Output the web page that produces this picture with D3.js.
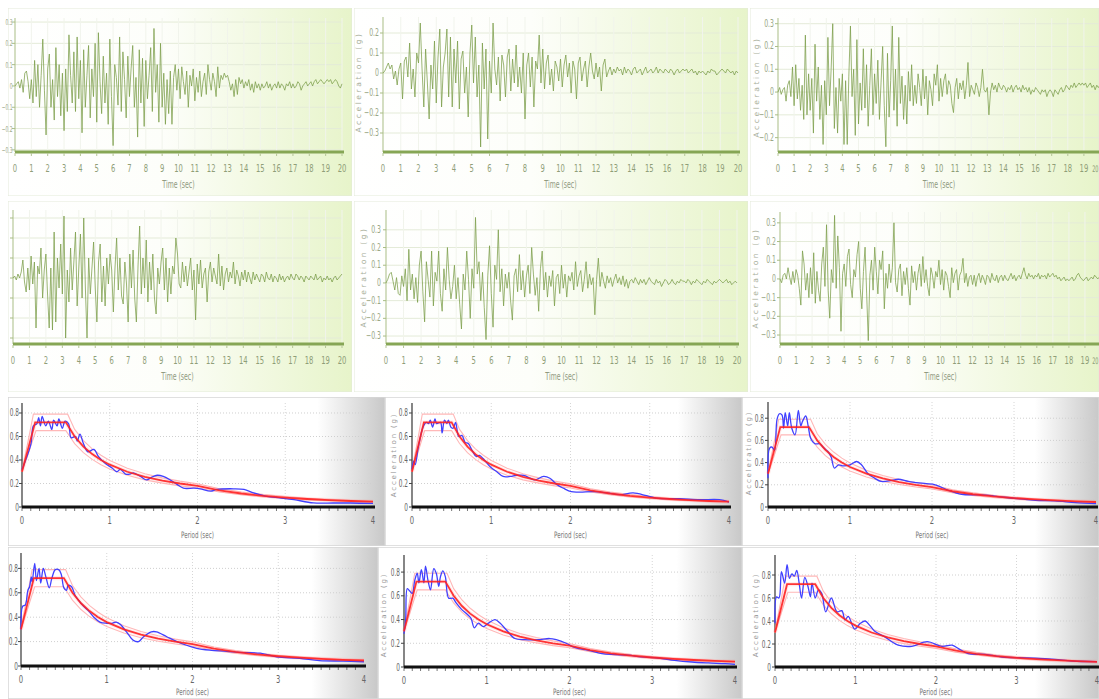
<!DOCTYPE html>
<html lang="en">
<head>
<meta charset="utf-8">
<title>Ground motions and response spectra</title>
<script src="https://cdn.jsdelivr.net/npm/d3@7"></script>
<style>
  body { margin: 0; background: #fff; }
  svg text { font-family: "DejaVu Sans", sans-serif; }
</style>
</head>
<body>
<script>
// ---- acceleration histories, one value every 0.1 s from 0 to 20 s ----
var dt = 0.1;
var acc1 = [
  0.00, 0.01, 0.02, -0.01, 0.03, -0.03, 0.06, 0.07, 0.02, -0.06,
  0.03, -0.08, 0.12, -0.05, 0.10, -0.10, 0.05, 0.22, -0.02, -0.23,
  0.08, 0.15, -0.10, 0.03, -0.16, 0.18, -0.05, 0.10, -0.14, 0.06,
  -0.21, 0.08, -0.12, 0.24, 0.05, -0.08, 0.16, -0.12, 0.23, -0.06,
  0.12, -0.22, 0.17, -0.10, 0.05, 0.19, -0.15, 0.08, -0.05, 0.20,
  -0.17, 0.25, 0.02, -0.13, 0.14, -0.08, 0.06, -0.18, 0.22, -0.05,
  -0.28, 0.10, 0.04, -0.09, 0.23, -0.12, 0.16, 0.03, -0.15, 0.14,
  -0.05, 0.08, 0.19, -0.10, 0.04, -0.24, 0.17, -0.08, 0.13, -0.19,
  0.12, -0.06, 0.05, 0.18, -0.12, 0.27, -0.03, 0.10, -0.17, 0.20,
  -0.10, 0.06, -0.18, 0.03, -0.13, 0.07, -0.18, 0.04, 0.10, -0.02,
  0.08, -0.06, 0.09, 0.02, -0.04, 0.07, -0.10, 0.05, 0.00, 0.08,
  -0.07, 0.04, -0.03, 0.07, -0.05, 0.02, 0.06, -0.04, 0.10, 0.03,
  -0.02, 0.06, 0.02, -0.05, 0.09, -0.01, 0.05, 0.03, 0.06, 0.04,
  0.05, 0.02, -0.02, 0.01, -0.05, 0.03, -0.04, 0.04, 0.01, 0.03,
  -0.01, 0.02, 0.00, 0.03, -0.02, 0.01, -0.03, 0.02, -0.01, 0.01,
  -0.02, 0.01, -0.01, 0.00, 0.02, -0.01, 0.01, -0.02, 0.00, 0.01,
  -0.01, 0.02, -0.01, 0.01, 0.00, -0.02, 0.01, 0.00, 0.02, -0.01,
  0.01, -0.01, 0.00, 0.02, 0.01, -0.02, 0.00, 0.01, 0.02, 0.00,
  0.01, 0.02, 0.00, 0.02, 0.03, 0.01, 0.02, 0.03, 0.02, 0.01,
  0.02, 0.03, 0.02, 0.03, 0.01, 0.02, 0.03, 0.02, 0.00, -0.01, 0.01
];
var acc2 = [
  0.00, 0.01, 0.03, 0.05, 0.02, 0.04, -0.03, 0.01, -0.06, 0.02,
  0.05, -0.13, 0.06, 0.08, -0.02, 0.15, -0.08, 0.02, -0.12, 0.10,
  0.05, 0.25, 0.02, -0.17, 0.12, -0.05, -0.23, 0.04, -0.08, 0.16,
  -0.15, 0.08, 0.22, -0.17, 0.03, 0.10, 0.22, -0.12, 0.18, -0.17,
  0.12, -0.05, 0.16, -0.18, 0.07, 0.11, -0.10, 0.03, -0.22, 0.10,
  0.24, -0.05, 0.18, -0.12, 0.04, -0.37, 0.15, -0.08, 0.12, -0.33,
  0.06, -0.10, 0.25, 0.02, -0.06, 0.08, -0.14, 0.09, 0.04, -0.12,
  0.08, 0.12, -0.09, 0.07, -0.05, 0.14, -0.07, 0.03, -0.10, 0.10,
  -0.23, 0.04, 0.10, -0.07, 0.08, -0.17, 0.06, 0.02, 0.19, -0.05,
  0.12, -0.08, 0.05, 0.09, -0.06, 0.02, -0.09, 0.06, 0.03, -0.04,
  0.07, -0.07, 0.04, 0.09, -0.02, 0.05, -0.10, 0.06, 0.02, -0.13,
  0.05, 0.08, -0.04, 0.02, 0.06, -0.07, 0.03, 0.10, 0.01, -0.03,
  0.05, -0.02, 0.03, -0.09, 0.04, 0.07, -0.02, 0.01, 0.03, -0.01,
  0.02, 0.00, 0.03, 0.01, 0.02, -0.01, 0.03, 0.00, 0.02, 0.01,
  -0.01, 0.02, 0.03, 0.00, 0.01, 0.02, -0.01, 0.01, 0.03, 0.00,
  0.01, 0.02, 0.00, 0.01, 0.03, 0.00, 0.02, 0.01, 0.00, 0.02,
  0.01, 0.00, 0.02, 0.01, -0.01, 0.01, 0.02, 0.00, 0.01, 0.02,
  0.01, 0.02, 0.00, 0.01, 0.02, 0.00, 0.01, -0.01, 0.01, 0.00,
  0.01, 0.00, -0.01, 0.01, 0.00, 0.02, 0.01, 0.01, -0.01, 0.00,
  0.01, 0.02, 0.01, 0.00, 0.02, 0.01, 0.00, 0.01, -0.01, 0.01, 0.00
];
var acc3 = [
  0.00, 0.02, -0.01, 0.01, 0.02, -0.04, 0.03, 0.05, -0.02, 0.11,
  -0.06, 0.12, -0.03, 0.06, -0.08, 0.03, -0.12, 0.25, -0.10, 0.08,
  -0.08, 0.06, -0.18, 0.21, -0.04, 0.11, -0.12, 0.03, -0.23, 0.05,
  -0.10, 0.24, -0.06, 0.10, 0.30, -0.16, 0.02, -0.18, 0.06, -0.04,
  0.08, -0.23, 0.05, -0.23, 0.07, 0.29, -0.02, 0.10, -0.19, 0.23,
  -0.14, 0.04, -0.08, 0.19, -0.07, 0.12, -0.15, 0.03, 0.19, -0.10,
  0.08, -0.05, 0.14, -0.12, 0.04, 0.20, -0.06, -0.24, 0.17, -0.11,
  0.05, 0.29, -0.08, 0.10, -0.15, 0.24, -0.05, 0.07, -0.12, 0.03,
  -0.14, 0.09, -0.04, 0.12, -0.06, 0.03, -0.05, 0.08, 0.02, -0.06,
  0.10, -0.03, 0.07, -0.10, 0.05, 0.01, -0.06, 0.08, 0.03, 0.12,
  -0.04, 0.06, -0.02, 0.05, 0.08, -0.01, 0.05, 0.03, -0.05, -0.09,
  0.02, 0.06, -0.03, 0.04, 0.01, 0.05, -0.03, 0.03, 0.13, -0.02,
  0.03, 0.01, -0.01, 0.04, 0.02, -0.02, 0.02, 0.10, 0.01, 0.00,
  0.02, -0.10, 0.00, 0.04, 0.01, 0.03, 0.00, 0.04, 0.02, 0.01,
  0.03, 0.02, 0.00, 0.02, 0.01, 0.03, 0.00, 0.02, 0.03, 0.01,
  0.02, 0.00, 0.03, 0.01, 0.02, 0.00, 0.02, -0.01, 0.01, 0.00,
  0.02, 0.01, 0.00, -0.01, 0.01, 0.00, 0.01, -0.02, 0.00, 0.01,
  0.00, -0.02, 0.01, 0.00, -0.01, 0.01, 0.02, 0.00, 0.01, 0.03,
  0.02, 0.01, 0.03, 0.02, 0.04, 0.02, 0.03, 0.04, 0.03, 0.04,
  0.03, 0.04, 0.02, 0.03, 0.04, 0.02, 0.03, 0.01, 0.03, 0.02, 0.03
];
var acc4 = [
  0.00, 0.01, -0.01, 0.02, 0.00, 0.03, 0.09, -0.02, -0.07, 0.05,
  -0.06, 0.11, -0.03, 0.08, -0.25, 0.06, 0.02, 0.15, -0.10, 0.04,
  0.12, -0.08, -0.25, 0.05, -0.26, 0.23, -0.22, 0.10, -0.05, 0.17,
  -0.08, 0.31, -0.30, 0.04, -0.12, 0.15, -0.06, 0.08, 0.23, -0.14,
  0.05, 0.22, -0.10, 0.30, -0.05, -0.30, 0.10, -0.08, 0.05, 0.18,
  -0.05, -0.22, 0.08, 0.17, -0.12, 0.06, -0.14, 0.10, -0.03, 0.12,
  0.04, -0.17, 0.05, 0.20, -0.06, 0.10, -0.09, -0.13, 0.08, -0.03,
  -0.22, 0.12, -0.05, 0.14, -0.10, -0.22, 0.06, 0.26, -0.08, 0.10,
  -0.05, 0.19, -0.12, 0.08, -0.06, 0.12, -0.10, -0.18, 0.05, -0.03,
  0.08, 0.15, -0.06, 0.10, -0.12, 0.05, -0.08, 0.06, 0.02, 0.20,
  0.12, -0.03, -0.05, 0.08, -0.02, 0.06, -0.04, 0.03, 0.10, -0.06,
  0.04, -0.21, 0.07, -0.03, 0.09, -0.05, 0.02, 0.05, -0.12, 0.03,
  0.08, -0.02, 0.05, 0.01, -0.03, 0.12, -0.04, 0.06, -0.06, 0.02,
  0.05, -0.02, 0.03, 0.00, 0.08, -0.03, 0.04, 0.01, -0.04, 0.03,
  -0.01, 0.04, -0.02, 0.03, 0.00, -0.03, 0.03, -0.01, 0.02, 0.00,
  -0.02, 0.02, 0.01, -0.02, 0.03, 0.00, -0.01, 0.02, -0.02, 0.01,
  0.00, -0.02, 0.02, -0.01, 0.01, -0.02, 0.00, 0.01, -0.01, 0.02,
  0.00, -0.01, 0.02, 0.01, -0.01, 0.01, 0.00, -0.02, 0.01, 0.00,
  -0.01, 0.01, 0.00, -0.01, 0.02, -0.01, 0.00, 0.01, -0.02, 0.00,
  -0.01, 0.01, -0.01, 0.00, -0.02, 0.00, 0.01, -0.01, 0.00, 0.01, 0.02
];
var acc5 = [
  0.00, 0.02, 0.05, 0.06, 0.01, -0.04, 0.03, -0.06, -0.07, 0.04,
  -0.02, 0.08, -0.10, 0.19, -0.04, 0.05, -0.09, 0.03, -0.11, 0.10,
  0.18, -0.05, -0.22, 0.12, 0.02, -0.08, 0.18, -0.13, 0.06, 0.01,
  0.18, -0.06, -0.16, 0.08, -0.04, 0.20, 0.02, -0.09, -0.02, 0.10,
  -0.09, 0.03, -0.12, -0.26, 0.05, -0.04, 0.18, 0.02, -0.20, 0.08,
  -0.03, 0.37, 0.05, 0.12, -0.10, 0.06, -0.14, -0.32, 0.04, 0.21,
  -0.06, -0.25, 0.10, 0.02, 0.30, -0.05, 0.08, -0.13, 0.05, -0.03,
  0.06, -0.10, -0.21, 0.04, 0.08, -0.05, 0.16, -0.04, 0.07, -0.08,
  0.04, 0.10, -0.06, 0.20, 0.05, -0.07, 0.03, -0.16, 0.08, 0.18,
  -0.04, 0.06, -0.08, 0.04, -0.02, 0.07, -0.13, 0.03, 0.05, -0.06,
  0.10, -0.03, 0.05, -0.08, 0.04, 0.01, 0.06, -0.04, 0.12, -0.02,
  0.04, 0.07, -0.05, 0.02, 0.12, -0.03, 0.05, -0.01, 0.03, -0.18,
  0.02, 0.14, -0.02, 0.06, 0.01, -0.03, 0.04, 0.00, 0.03, -0.02,
  0.02, 0.05, 0.00, 0.03, -0.01, 0.04, -0.02, 0.02, -0.03, 0.01,
  0.02, 0.00, 0.03, 0.01, -0.01, 0.02, 0.00, 0.02, -0.01, 0.01,
  0.03, 0.01, 0.00, -0.01, 0.02, 0.00, 0.01, -0.02, 0.00, 0.02,
  0.01, -0.01, 0.00, 0.02, 0.00, -0.01, 0.01, 0.00, 0.02, 0.01,
  0.01, 0.00, 0.02, 0.01, -0.01, 0.01, 0.00, 0.02, 0.01, 0.00,
  -0.01, 0.01, 0.00, 0.02, 0.01, 0.00, -0.01, 0.01, 0.00, 0.01,
  0.02, 0.01, 0.00, 0.01, 0.02, 0.00, 0.01, -0.01, 0.00, 0.01, 0.00
];
var acc6 = [
  0.00, -0.02, 0.02, 0.03, 0.00, 0.06, 0.01, -0.03, 0.04, -0.02,
  0.05, 0.02, -0.05, -0.14, 0.15, 0.08, -0.06, 0.03, -0.10, 0.06,
  -0.08, 0.14, -0.13, 0.04, -0.06, -0.12, 0.08, 0.17, -0.04, 0.29,
  -0.06, -0.21, 0.05, -0.02, 0.34, -0.05, 0.23, 0.06, -0.28, 0.03,
  0.08, -0.04, 0.12, 0.16, -0.03, -0.10, 0.05, 0.01, 0.13, 0.20,
  -0.05, -0.16, 0.04, 0.17, -0.08, -0.33, 0.02, 0.10, -0.06, 0.17,
  0.04, -0.08, 0.10, 0.05, 0.15, -0.16, 0.03, -0.05, 0.08, -0.02,
  0.06, 0.30, -0.02, -0.07, 0.05, 0.08, -0.09, 0.04, -0.03, 0.06,
  -0.05, -0.14, 0.07, -0.02, 0.04, -0.06, 0.03, 0.08, -0.04, 0.12,
  -0.02, 0.05, -0.04, -0.09, 0.06, 0.02, -0.05, 0.04, 0.01, 0.10,
  -0.03, 0.05, -0.06, 0.04, 0.02, -0.04, -0.10, 0.06, -0.02, 0.03,
  0.05, -0.06, 0.02, 0.04, 0.11, -0.02, 0.03, -0.04, 0.01, 0.02,
  -0.03, 0.02, -0.04, 0.01, 0.03, -0.02, 0.02, 0.00, -0.03, 0.02,
  0.01, -0.02, 0.03, 0.00, -0.01, 0.02, -0.02, 0.01, 0.02, -0.01,
  0.02, 0.00, -0.01, 0.01, 0.03, 0.00, 0.02, -0.01, 0.01, 0.02,
  0.00, 0.03, 0.06, 0.02, 0.00, 0.03, 0.01, 0.02, 0.00, 0.02,
  0.01, 0.03, 0.00, 0.02, 0.01, 0.02, 0.00, 0.03, 0.01, 0.02,
  0.03, 0.01, 0.02, 0.00, 0.01, -0.01, 0.00, 0.01, -0.01, 0.00,
  -0.01, 0.00, 0.01, -0.01, 0.00, 0.02, 0.03, 0.01, 0.00, -0.01,
  0.00, 0.01, -0.01, 0.00, 0.01, 0.00, 0.02, 0.01, 0.00, 0.01, 0.00
];

// ---- tick labels ----
var timeTicks = [0, 1, 2, 3, 4, 5, 6, 7, 8, 9, 10, 11, 12, 13, 14, 15, 16, 17, 18, 19, 20];
var accTicks = [-0.3, -0.2, -0.1, 0, 0.1, 0.2, 0.3];
var periodTicks = [0, 1, 2, 3, 4];
var saTicks = [0, 0.2, 0.4, 0.6, 0.8];

// ---- target spectrum (red) and its +/- band (pink) ----
var targetT  = [0, 0.15, 0.5, 0.6, 0.7, 0.8, 0.9, 1.0, 1.2, 1.4, 1.6, 1.8, 2.0, 2.25, 2.5, 2.75, 3.0, 3.25, 3.5, 3.75, 4.0];
var targetSa = [0.30, 0.72, 0.72, 0.60, 0.514, 0.45, 0.40, 0.36, 0.30, 0.257, 0.225, 0.20, 0.18, 0.142, 0.115, 0.095, 0.08, 0.068, 0.059, 0.051, 0.045];
var upperT   = [0, 0.13, 0.52, 0.6, 0.7, 0.8, 0.9, 1.0, 1.2, 1.4, 1.6, 1.8, 2.0, 2.25, 2.5, 2.75, 3.0, 3.25, 3.5, 3.75, 4.0];
var upperSa  = [0.30, 0.79, 0.79, 0.66, 0.565, 0.495, 0.44, 0.396, 0.33, 0.283, 0.248, 0.22, 0.198, 0.156, 0.127, 0.105, 0.088, 0.075, 0.065, 0.056, 0.05];
var lowerT   = [0, 0.16, 0.5, 0.6, 0.7, 0.8, 0.9, 1.0, 1.2, 1.4, 1.6, 1.8, 2.0, 2.25, 2.5, 2.75, 3.0, 3.25, 3.5, 3.75, 4.0];
var lowerSa  = [0.30, 0.65, 0.65, 0.54, 0.463, 0.405, 0.36, 0.324, 0.27, 0.231, 0.203, 0.18, 0.162, 0.128, 0.104, 0.086, 0.072, 0.061, 0.053, 0.046, 0.04];

// ---- response spectra of the records (blue) ----
var specT1  = [0, 0.1, 0.13, 0.17, 0.19, 0.21, 0.23, 0.27, 0.3, 0.34, 0.36, 0.4, 0.42, 0.46, 0.49, 0.53, 0.56, 0.61, 0.63, 0.66, 0.7, 0.75, 0.82, 0.87, 0.95, 1.03, 1.08, 1.12, 1.18, 1.23, 1.27, 1.35, 1.42, 1.48, 1.54, 1.61, 1.69, 1.77, 1.84, 1.96, 2.03, 2.15, 2.22, 2.41, 2.53, 2.64, 2.79, 2.94, 3.1, 3.32, 3.55, 3.74, 4.0];
var specSa1 = [0.32, 0.53, 0.69, 0.71, 0.76, 0.69, 0.77, 0.69, 0.73, 0.66, 0.74, 0.69, 0.75, 0.67, 0.73, 0.71, 0.59, 0.60, 0.56, 0.62, 0.54, 0.47, 0.49, 0.43, 0.37, 0.33, 0.30, 0.32, 0.28, 0.28, 0.29, 0.26, 0.23, 0.255, 0.27, 0.26, 0.23, 0.19, 0.16, 0.16, 0.155, 0.135, 0.15, 0.155, 0.15, 0.12, 0.09, 0.077, 0.062, 0.035, 0.034, 0.034, 0.03];
var specT2  = [0, 0.02, 0.04, 0.08, 0.14, 0.18, 0.21, 0.23, 0.26, 0.29, 0.31, 0.36, 0.38, 0.41, 0.44, 0.46, 0.49, 0.52, 0.55, 0.59, 0.63, 0.67, 0.71, 0.76, 0.81, 0.85, 0.9, 0.99, 1.07, 1.15, 1.24, 1.32, 1.41, 1.49, 1.55, 1.66, 1.74, 1.83, 1.91, 2.01, 2.12, 2.29, 2.46, 2.62, 2.79, 2.96, 3.08, 3.38, 3.63, 3.88, 4.0];
var specSa2 = [0.32, 0.39, 0.36, 0.51, 0.68, 0.72, 0.71, 0.74, 0.68, 0.75, 0.71, 0.72, 0.63, 0.74, 0.71, 0.74, 0.68, 0.67, 0.72, 0.60, 0.61, 0.55, 0.54, 0.48, 0.43, 0.44, 0.41, 0.34, 0.30, 0.26, 0.26, 0.27, 0.27, 0.245, 0.23, 0.26, 0.245, 0.19, 0.16, 0.13, 0.127, 0.13, 0.12, 0.105, 0.12, 0.096, 0.076, 0.07, 0.062, 0.062, 0.042];
var specT3  = [0, 0.02, 0.05, 0.08, 0.11, 0.14, 0.17, 0.19, 0.21, 0.24, 0.26, 0.29, 0.33, 0.37, 0.4, 0.42, 0.46, 0.49, 0.52, 0.57, 0.63, 0.67, 0.73, 0.77, 0.81, 0.86, 0.92, 1.0, 1.08, 1.14, 1.22, 1.3, 1.38, 1.51, 1.59, 1.71, 1.81, 1.93, 2.04, 2.2, 2.36, 2.53, 2.69, 2.85, 3.05, 3.26, 3.5, 3.75, 4.0];
var specSa3 = [0.26, 0.53, 0.54, 0.51, 0.79, 0.84, 0.83, 0.71, 0.85, 0.73, 0.85, 0.71, 0.65, 0.87, 0.73, 0.77, 0.82, 0.73, 0.62, 0.57, 0.57, 0.54, 0.50, 0.45, 0.35, 0.38, 0.37, 0.38, 0.41, 0.38, 0.30, 0.26, 0.23, 0.24, 0.25, 0.23, 0.22, 0.21, 0.20, 0.15, 0.115, 0.11, 0.105, 0.09, 0.075, 0.06, 0.055, 0.04, 0.03];
var specT4  = [0, 0.02, 0.05, 0.08, 0.1, 0.12, 0.13, 0.16, 0.18, 0.21, 0.23, 0.26, 0.29, 0.33, 0.36, 0.4, 0.44, 0.47, 0.5, 0.53, 0.55, 0.59, 0.63, 0.67, 0.73, 0.79, 0.85, 0.92, 1.0, 1.06, 1.11, 1.16, 1.23, 1.31, 1.37, 1.43, 1.52, 1.58, 1.7, 1.82, 1.93, 2.05, 2.2, 2.4, 2.59, 2.79, 2.98, 3.25, 3.48, 3.76, 4.0];
var specSa4 = [0.30, 0.49, 0.50, 0.62, 0.65, 0.73, 0.69, 0.84, 0.70, 0.80, 0.68, 0.80, 0.73, 0.64, 0.72, 0.79, 0.79, 0.75, 0.64, 0.62, 0.66, 0.65, 0.58, 0.54, 0.49, 0.45, 0.40, 0.36, 0.35, 0.35, 0.36, 0.34, 0.28, 0.21, 0.20, 0.24, 0.28, 0.28, 0.24, 0.20, 0.17, 0.145, 0.13, 0.12, 0.11, 0.105, 0.075, 0.063, 0.044, 0.04, 0.035];
var specT5  = [0, 0.02, 0.04, 0.07, 0.1, 0.13, 0.16, 0.18, 0.21, 0.24, 0.26, 0.29, 0.32, 0.36, 0.39, 0.42, 0.44, 0.47, 0.5, 0.54, 0.59, 0.63, 0.69, 0.77, 0.81, 0.85, 0.9, 0.96, 1.02, 1.1, 1.16, 1.24, 1.34, 1.46, 1.62, 1.76, 1.84, 1.96, 2.06, 2.23, 2.39, 2.55, 2.71, 2.87, 3.07, 3.27, 3.48, 3.68, 3.88, 4.0];
var specSa5 = [0.28, 0.40, 0.66, 0.64, 0.62, 0.73, 0.79, 0.71, 0.82, 0.71, 0.85, 0.73, 0.65, 0.83, 0.79, 0.68, 0.76, 0.81, 0.76, 0.58, 0.58, 0.54, 0.49, 0.44, 0.41, 0.33, 0.37, 0.34, 0.37, 0.40, 0.37, 0.31, 0.24, 0.23, 0.23, 0.24, 0.23, 0.20, 0.165, 0.14, 0.113, 0.105, 0.10, 0.085, 0.076, 0.056, 0.042, 0.034, 0.028, 0.022];
var specT6  = [0, 0.02, 0.05, 0.08, 0.12, 0.15, 0.18, 0.21, 0.24, 0.27, 0.3, 0.33, 0.37, 0.41, 0.44, 0.46, 0.5, 0.54, 0.58, 0.63, 0.7, 0.77, 0.83, 0.87, 0.91, 0.99, 1.06, 1.12, 1.18, 1.24, 1.37, 1.45, 1.53, 1.7, 1.89, 2.07, 2.2, 2.28, 2.4, 2.61, 2.82, 3.03, 3.23, 3.48, 3.69, 4.0];
var specSa6 = [0.38, 0.61, 0.60, 0.83, 0.73, 0.89, 0.77, 0.81, 0.79, 0.84, 0.73, 0.60, 0.78, 0.70, 0.61, 0.73, 0.60, 0.67, 0.64, 0.48, 0.60, 0.48, 0.49, 0.41, 0.44, 0.33, 0.38, 0.40, 0.36, 0.31, 0.26, 0.22, 0.19, 0.18, 0.22, 0.18, 0.19, 0.16, 0.116, 0.11, 0.087, 0.081, 0.078, 0.067, 0.052, 0.047];

var histories = [acc1, acc2, acc3, acc4, acc5, acc6];
var spectraT = [specT1, specT2, specT3, specT4, specT5, specT6];
var spectraSa = [specSa1, specSa2, specSa3, specSa4, specSa5, specSa6];

// ---- panel layout (pixels) ----
var historyLayout = [
  {bx: 8,   by: 8,   bw: 344, bh: 188, x0: 15,  x1: 342,  yt: 18,  yb: 152, vMin: -0.31,  vMax: 0.319, labelX: 12.5, edge: true,  titleX: null, titleY: 0},
  {bx: 354, by: 8,   bw: 394, bh: 188, x0: 383, x1: 738,  yt: 17,  yb: 152, vMin: -0.395, vMax: 0.28,  labelX: 379,  edge: false, titleX: 361,  titleY: 82},
  {bx: 750, by: 8,   bw: 349, bh: 188, x0: 778, x1: 1100, yt: 18,  yb: 152, vMin: -0.263, vMax: 0.325, labelX: 774,  edge: false, titleX: 759,  titleY: 87},
  {bx: 8,   by: 201, bw: 344, bh: 191, x0: 13,  x1: 342,  yt: 210, yb: 344, vMin: -0.33,  vMax: 0.34,  labelX: null, edge: false, titleX: null, titleY: 0},
  {bx: 354, by: 201, bw: 394, bh: 191, x0: 386, x1: 737,  yt: 210, yb: 344, vMin: -0.345, vMax: 0.412, labelX: 381,  edge: false, titleX: 366,  titleY: 277},
  {bx: 750, by: 201, bw: 349, bh: 191, x0: 780, x1: 1101, yt: 212, yb: 344, vMin: -0.348, vMax: 0.358, labelX: 776,  edge: false, titleX: 758,  titleY: 278}
];
var spectrumLayout = [
  {bx: 8,   by: 397, bw: 377, bh: 149, x0: 22,  x1: 373,  yt: 403, yb: 507, gMax: 0.885, labelX: 19,  titleX: null, titleY: 0,   lab: 17, tit: 31},
  {bx: 385, by: 397, bw: 357, bh: 149, x0: 412, x1: 729,  yt: 403, yb: 507, gMax: 0.885, labelX: 408, titleX: 396,  titleY: 455, lab: 17, tit: 31},
  {bx: 742, by: 397, bw: 357, bh: 149, x0: 768, x1: 1096, yt: 402, yb: 507, gMax: 0.946, labelX: 764, titleX: 751,  titleY: 453, lab: 17, tit: 31},
  {bx: 8,   by: 547, bw: 370, bh: 152, x0: 21,  x1: 364,  yt: 553, yb: 666, gMax: 0.926, labelX: 18,  titleX: null, titleY: 0,   lab: 17, tit: 29},
  {bx: 378, by: 547, bw: 364, bh: 152, x0: 404, x1: 735,  yt: 555, yb: 667, gMax: 0.944, labelX: 400, titleX: 386,  titleY: 615, lab: 17, tit: 28},
  {bx: 742, by: 547, bw: 357, bh: 152, x0: 775, x1: 1097, yt: 555, yb: 667, gMax: 0.974, labelX: 771, titleX: 758,  titleY: 615, lab: 17, tit: 28}
];
var pageW = 1099;

var svg = d3.select("body").append("svg")
  .attr("width", pageW)
  .attr("height", 699);

var defs = svg.append("defs");
function fade(id, stops) {
  var gr = defs.append("linearGradient").attr("id", id)
    .attr("x1", 0).attr("x2", 1).attr("y1", 0).attr("y2", 0);
  stops.forEach(function(s) {
    gr.append("stop").attr("offset", s[0]).attr("stop-color", s[1]);
  });
}
fade("greenFade", [[0, "#ffffff"], [0.45, "#fdfefa"], [1, "#e7f4ca"]]);
fade("grayFade", [[0, "#ffffff"], [0.82, "#ffffff"], [1, "#c8c8c8"]]);

// narrow tick labels, like the condensed font of the original
function squish(g, x, y, txt, anchor, size, fill, sx) {
  return g.append("text")
    .attr("transform", "translate(" + x + "," + y + ") scale(" + (sx || 0.62) + ",1)")
    .attr("text-anchor", anchor)
    .attr("font-size", size)
    .attr("fill", fill)
    .text(txt);
}

function yTitle(g, x, y, fill, size, spacing) {
  g.append("text")
    .attr("transform", "translate(" + x + "," + y + ") rotate(-90)")
    .attr("text-anchor", "middle")
    .attr("font-size", size)
    .attr("letter-spacing", spacing)
    .attr("fill", fill)
    .text("Acceleration (g)");
}

// ---- acceleration histories ----
historyLayout.forEach(function(p, k) {
  var acc = histories[k];
  var clipId = "hclip" + k;
  defs.append("clipPath").attr("id", clipId)
    .append("rect").attr("x", p.bx).attr("y", p.by).attr("width", p.bw).attr("height", p.bh);
  var g = svg.append("g").attr("clip-path", "url(#" + clipId + ")");

  g.append("rect").attr("x", p.bx).attr("y", p.by).attr("width", p.bw).attr("height", p.bh)
    .attr("fill", "url(#greenFade)").attr("stroke", "#e3ead9").attr("stroke-width", 1);

  var x = d3.scaleLinear().domain([0, 20]).range([p.x0, p.x1]);
  var y = d3.scaleLinear().domain([p.vMin, p.vMax]).range([p.yb, p.yt]);
  var shown = accTicks.filter(function(v) { return v >= p.vMin && v <= p.vMax; });

  g.selectAll(".hgrid").data(shown).enter().append("line")
    .attr("x1", p.x0).attr("x2", p.x1)
    .attr("y1", function(d) { return y(d); }).attr("y2", function(d) { return y(d); })
    .attr("stroke", "#e4ebd8").attr("stroke-width", 1);
  g.selectAll(".vgrid").data(timeTicks.slice(1)).enter().append("line")
    .attr("x1", function(d) { return x(d); }).attr("x2", function(d) { return x(d); })
    .attr("y1", p.yt).attr("y2", p.yb)
    .attr("stroke", "#f1f4ec").attr("stroke-width", 1);

  // y axis
  g.append("line").attr("x1", p.x0).attr("x2", p.x0).attr("y1", p.yt).attr("y2", p.yb)
    .attr("stroke", "#a9bd85").attr("stroke-width", 1);
  g.selectAll(".ytick").data(shown).enter().append("line")
    .attr("x1", p.x0 - 3).attr("x2", p.x0)
    .attr("y1", function(d) { return y(d); }).attr("y2", function(d) { return y(d); })
    .attr("stroke", "#a9bd85");
  if (p.labelX !== null) {
    // the leftmost panel's labels sit against the picture edge, so draw them small and unclipped
    var lg = p.edge ? svg : g;
    shown.forEach(function(v) {
      squish(lg, p.labelX, y(v) + 3, d3.format("~g")(v), "end", p.edge ? 8 : 10, "#9aa786", p.edge ? 0.55 : 0.62);
    });
  }
  if (p.titleX !== null) yTitle(g, p.titleX, p.titleY, "#a6ad98", 7.5, 2.6);

  // signal
  var line = d3.line()
    .x(function(d, i) { return x(i * dt); })
    .y(function(d) { return y(d); });
  g.append("path").datum(acc).attr("d", line)
    .attr("fill", "none").attr("stroke", "#7c9e4a").attr("stroke-width", 0.9)
    .attr("stroke-opacity", 0.85).attr("stroke-linejoin", "round");

  // x axis
  g.append("line").attr("x1", p.x0).attr("x2", p.x1 + 2).attr("y1", p.yb).attr("y2", p.yb)
    .attr("stroke", "#86a655").attr("stroke-width", 3);
  g.selectAll(".xtick").data(timeTicks).enter().append("line")
    .attr("x1", function(d) { return x(d); }).attr("x2", function(d) { return x(d); })
    .attr("y1", p.yb + 1).attr("y2", p.yb + 4)
    .attr("stroke", "#b4c596");
  timeTicks.forEach(function(t) {
    // a label that would run past the right edge of the page is pulled back inside it, a bit smaller
    var tx = x(t);
    if (tx > pageW - 6) squish(svg, pageW - 0.5, p.yb + 20, t, "end", 9, "#8f9e78", 0.55);
    else squish(g, tx, p.yb + 20, t, "middle", 11, "#8f9e78");
  });
  squish(g, (p.x0 + p.x1) / 2, p.yb + 36, "Time (sec)", "middle", 10, "#8f9a80");
});

// ---- response spectra ----
spectrumLayout.forEach(function(p, k) {
  var clipId = "sclip" + k;
  defs.append("clipPath").attr("id", clipId)
    .append("rect").attr("x", p.bx).attr("y", p.by).attr("width", p.bw).attr("height", p.bh);
  var g = svg.append("g").attr("clip-path", "url(#" + clipId + ")");

  g.append("rect").attr("x", p.bx).attr("y", p.by).attr("width", p.bw).attr("height", p.bh)
    .attr("fill", "url(#grayFade)").attr("stroke", "#d6d6d6").attr("stroke-width", 1.5);

  var x = d3.scaleLinear().domain([0, 4]).range([p.x0, p.x1]);
  var y = d3.scaleLinear().domain([0, p.gMax]).range([p.yb, p.yt]);

  g.selectAll(".hgrid").data(saTicks.slice(1)).enter().append("line")
    .attr("x1", p.x0).attr("x2", p.x1)
    .attr("y1", function(d) { return y(d); }).attr("y2", function(d) { return y(d); })
    .attr("stroke", "#cfcfcf").attr("stroke-dasharray", "1,2");
  g.selectAll(".vgrid").data(periodTicks.slice(1, 4)).enter().append("line")
    .attr("x1", function(d) { return x(d); }).attr("x2", function(d) { return x(d); })
    .attr("y1", p.yt).attr("y2", p.yb)
    .attr("stroke", "#d6d6d6").attr("stroke-dasharray", "1,2");

  g.append("line").attr("x1", p.x0).attr("x2", p.x0).attr("y1", p.yt).attr("y2", p.yb)
    .attr("stroke", "#444").attr("stroke-width", 1.3);
  g.selectAll(".ytick").data(saTicks).enter().append("line")
    .attr("x1", p.x0 - 3).attr("x2", p.x0)
    .attr("y1", function(d) { return y(d); }).attr("y2", function(d) { return y(d); })
    .attr("stroke", "#444");
  saTicks.forEach(function(v) {
    squish(g, p.labelX, y(v) + 3.5, d3.format("~g")(v), "end", 10, "#666", 0.58);
  });
  if (p.titleX !== null) yTitle(g, p.titleX, p.titleY, "#9a9a9a", 7, 1.8);

  var band = d3.line().x(function(d) { return x(d[0]); }).y(function(d) { return y(d[1]); });
  [[upperT, upperSa], [lowerT, lowerSa]].forEach(function(b) {
    g.append("path").datum(d3.zip(b[0], b[1])).attr("d", band)
      .attr("fill", "none").attr("stroke", "#ffb8b8").attr("stroke-width", 1.1);
  });
  var target = d3.zip(targetT, targetSa);
  g.append("path").datum(target).attr("d", band)
    .attr("fill", "none").attr("stroke", "#ff8080").attr("stroke-opacity", 0.18).attr("stroke-width", 4);

  var blue = d3.line().curve(d3.curveCatmullRom)
    .x(function(d) { return x(d[0]); }).y(function(d) { return y(d[1]); });
  g.append("path").datum(d3.zip(spectraT[k], spectraSa[k])).attr("d", blue)
    .attr("fill", "none").attr("stroke", "#4040ff").attr("stroke-width", 1.3);

  g.append("path").datum(target).attr("d", band)
    .attr("fill", "none").attr("stroke", "#ff2020").attr("stroke-width", 1.8)
    .attr("stroke-opacity", 0.9);

  // x axis with 0.1 s minor ticks
  var minor = d3.range(0, 40).map(function(i) { return i / 10; });
  g.selectAll(".minor").data(minor).enter().append("line")
    .attr("x1", function(d) { return x(d); }).attr("x2", function(d) { return x(d); })
    .attr("y1", p.yb).attr("y2", p.yb + 4)
    .attr("stroke", "#555").attr("stroke-width", 0.8);
  g.append("line").attr("x1", p.x0).attr("x2", p.x1 + 2).attr("y1", p.yb).attr("y2", p.yb)
    .attr("stroke", "#111").attr("stroke-width", 3);
  periodTicks.forEach(function(t) {
    squish(g, x(t), p.yb + p.lab, t, "middle", 11, "#666");
  });
  squish(g, (p.x0 + p.x1) / 2, p.yb + p.tit, "Period (sec)", "middle", 9, "#777");
});
</script>
</body>
</html>
